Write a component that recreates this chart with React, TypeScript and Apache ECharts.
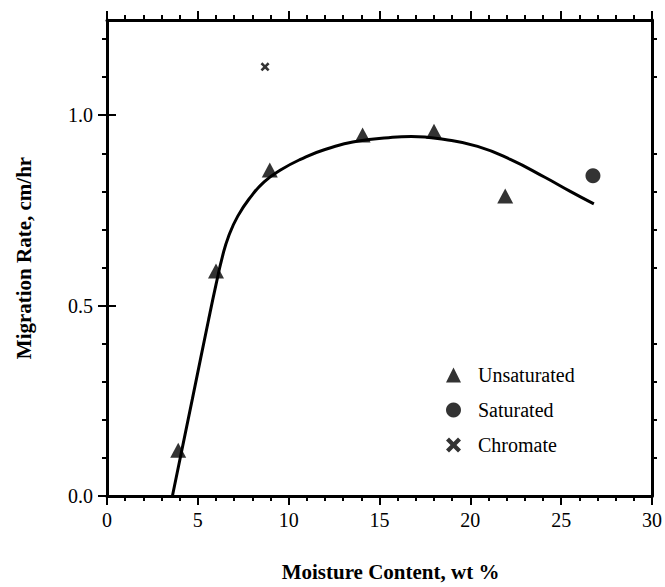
import React, { useEffect, useRef } from "react";
import * as echarts from "echarts";

// Measured points
const unsatX = [3.92, 6.0, 8.96, 14.07, 18.0, 21.92];
const unsatY = [0.12, 0.591, 0.856, 0.948, 0.958, 0.788];
const satX = [26.75];
const satY = [0.841];
const chromX = [8.7];
const chromY = [1.127];

// Fitted trend curve
const fitX = [3.6, 4.7, 5.6, 6.0, 6.35, 6.7, 7.2, 7.9, 8.65, 9.55, 10.65, 12, 13.85, 15.5, 16.75, 18.6, 20.4, 22.2, 24.1, 25.5, 26.8];
const fitY = [0, 0.255, 0.465, 0.555, 0.628, 0.683, 0.735, 0.785, 0.825, 0.856, 0.884, 0.91, 0.932, 0.941, 0.944, 0.936, 0.918, 0.884, 0.837, 0.8, 0.767];

const xTickLabels = ["0", "5", "10", "15", "20", "25", "30"];
const yMajor = [0, 0.5, 1.0];
const yMinor = [0.1, 0.2, 0.3, 0.4, 0.6, 0.7, 0.8, 0.9, 1.1, 1.2];

const FONT = "'Liberation Serif', 'Times New Roman', serif";
const CROSS = "path://M2,0 L5,3 L8,0 L10,2 L7,5 L10,8 L8,10 L5,7 L2,10 L0,8 L3,5 L0,2 Z";

const zip = (xs: number[], ys: number[]) => xs.map((x, i) => [x, ys[i]]);

export default function App() {
  const ref = useRef<HTMLDivElement>(null);
  useEffect(() => {
    if (!ref.current) return;
    const chart = echarts.init(ref.current, undefined, { renderer: "svg" });
    const line = { lineStyle: { color: "#000", width: 3 } };
    const xBase = {
      type: "value",
      min: 0,
      max: 30,
      interval: 5,
      splitLine: { show: false },
      axisLine: { show: true, onZero: false, ...line },
      axisTick: { show: true, inside: false, length: 9, lineStyle: { color: "#000", width: 2 } },
      minorTick: { show: true, splitNumber: 5, length: 5, lineStyle: { color: "#000", width: 2 } },
    };
    const yMinorAxis = (position: string, labels: boolean) => ({
      type: "value",
      position,
      min: 0,
      max: 1.25,
      interval: 0.25,
      splitLine: { show: false },
      axisLine: { show: true, onZero: false, ...line },
      axisTick: { show: true, inside: false, length: 5, customValues: yMinor, lineStyle: { color: "#000", width: 2 } },
      axisLabel: labels
        ? {
            show: true,
            customValues: yMajor,
            formatter: (v: number) => v.toFixed(1),
            fontFamily: FONT,
            fontSize: 20,
            color: "#000",
            margin: 14,
          }
        : { show: false },
    });
    const yMajorAxis = (position: string) => ({
      type: "value",
      position,
      min: 0,
      max: 1.25,
      interval: 0.25,
      splitLine: { show: false },
      axisLine: { show: false },
      axisTick: { show: true, inside: false, length: 9, customValues: yMajor, lineStyle: { color: "#000", width: 2 } },
      axisLabel: { show: false },
    });

    chart.setOption({
      animation: false,
      backgroundColor: "#fff",
      textStyle: { fontFamily: FONT, color: "#000" },
      grid: { left: 107, right: 10, top: 20, bottom: 84 },
      xAxis: [
        {
          ...xBase,
          position: "bottom",
          name: "Moisture Content, wt %",
          nameLocation: "middle",
          nameGap: 65,
          nameTextStyle: { fontFamily: FONT, fontSize: 21, fontWeight: "bold", color: "#000", padding: [0, 0, 0, 22] },
          axisLabel: {
            show: true,
            fontFamily: FONT,
            fontSize: 20,
            color: "#000",
            margin: 14,
            formatter: (v: number) => xTickLabels[Math.round(v / 5)] ?? "",
          },
        },
        { ...xBase, position: "top", axisLabel: { show: false } },
      ],
      yAxis: [
        {
          ...yMinorAxis("left", true),
          name: "Migration Rate, cm/hr",
          nameLocation: "middle",
          nameGap: 73,
          nameTextStyle: { fontFamily: FONT, fontSize: 21, fontWeight: "bold", color: "#000" },
        },
        yMajorAxis("left"),
        yMinorAxis("right", false),
        yMajorAxis("right"),
      ],
      legend: {
        orient: "vertical",
        left: 441,
        top: 360,
        itemWidth: 15,
        itemHeight: 15,
        itemGap: 15,
        textStyle: { fontFamily: FONT, fontSize: 20, color: "#000", lineHeight: 20, padding: [0, 0, 0, 12] },
        data: [
          { name: "Unsaturated", icon: "triangle" },
          { name: "Saturated", icon: "circle" },
          { name: "Chromate", icon: CROSS },
        ],
      },
      series: [
        {
          name: "Fit",
          type: "line",
          data: zip(fitX, fitY),
          smooth: 0.5,
          showSymbol: false,
          lineStyle: { color: "#000", width: 3 },
          z: 2,
        },
        {
          name: "Unsaturated",
          type: "scatter",
          data: zip(unsatX, unsatY),
          symbol: "triangle",
          symbolSize: [16, 15],
          itemStyle: { color: "#000" },
          z: 3,
        },
        {
          name: "Saturated",
          type: "scatter",
          data: zip(satX, satY),
          symbol: "circle",
          symbolSize: 15,
          itemStyle: { color: "#000" },
          z: 3,
        },
        {
          name: "Chromate",
          type: "scatter",
          data: zip(chromX, chromY),
          symbol: CROSS,
          symbolSize: 9,
          itemStyle: { color: "#000" },
          z: 3,
        },
      ],
    });
    return () => chart.dispose();
  }, []);
  return (
    <div
      ref={ref}
      style={{ position: "fixed", left: 0, top: 0, width: 665, height: 587, background: "#fff" }}
    />
  );
}
